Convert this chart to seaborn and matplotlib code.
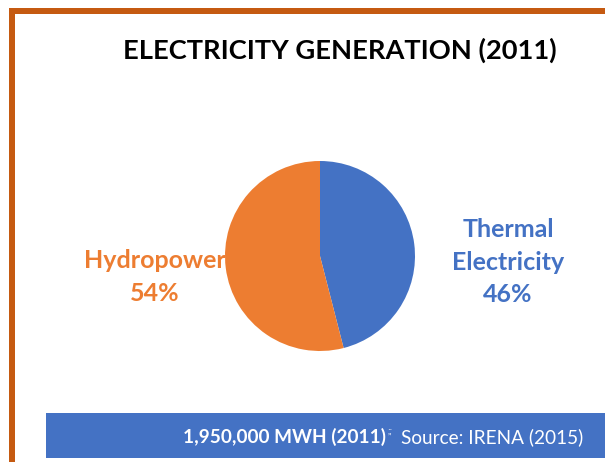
import seaborn as sns
import matplotlib.pyplot as plt
from matplotlib.patches import Rectangle

sns.set_theme(style="white")
plt.rcParams['font.family'] = ['Lato', 'DejaVu Sans']

sources = ["Thermal\nElectricity", "Hydropower"]
shares = [46, 54]
colors = ["#4472C4", "#ED7D31"]
title = "ELECTRICITY GENERATION (2011)"
total_text = "1,950,000 MWH (2011)"
source_text = "Source: IRENA (2015)"

W, H = 605, 462
fig = plt.figure(figsize=(W / 100, H / 100), dpi=100)

# background axes in pixel coords
bg = fig.add_axes([0, 0, 1, 1])
bg.set_xlim(0, W)
bg.set_ylim(H, 0)
bg.axis("off")

# orange frame (top + left)
bg.add_patch(Rectangle((9, 8), W - 9, 6, color="#C55A11", lw=0))
bg.add_patch(Rectangle((9, 8), 6, H - 8, color="#C55A11", lw=0))

# bottom banner
bg.add_patch(Rectangle((46, 413), W - 46, 45, color="#4472C4", lw=0))
bg.text(386, 437, total_text, ha="right", va="center", color="white",
        fontsize=13.7, fontweight="bold")
bg.text(388, 431, ";;", ha="left", va="center", color="white",
        fontsize=7, style="italic")
bg.text(583, 437, source_text, ha="right", va="center", color="white",
        fontsize=13.7)

bg.text(340, 50, title, ha="center", va="center", color="black",
        fontsize=19.6, fontweight="bold")

# pie
cx, cy, r = 320, 256, 95
pax = fig.add_axes([(cx - r) / W, (H - cy - r) / H, 2 * r / W, 2 * r / H])
pax.pie(shares, colors=colors, startangle=90, counterclock=False,
        wedgeprops=dict(linewidth=0))
pax.set_xlim(-1, 1)
pax.set_ylim(-1, 1)
pax.set_aspect("equal")

bg.text(508, 262, f"{sources[0]}\n{shares[0]}%", ha="center", va="center",
        color=colors[0], fontsize=18, fontweight="bold", linespacing=1.5)
bg.text(155, 277, f"{sources[1]}\n{shares[1]}%", ha="center", va="center",
        color=colors[1], fontsize=18, fontweight="bold", linespacing=1.5)

fig.savefig("out.png", dpi=100)
